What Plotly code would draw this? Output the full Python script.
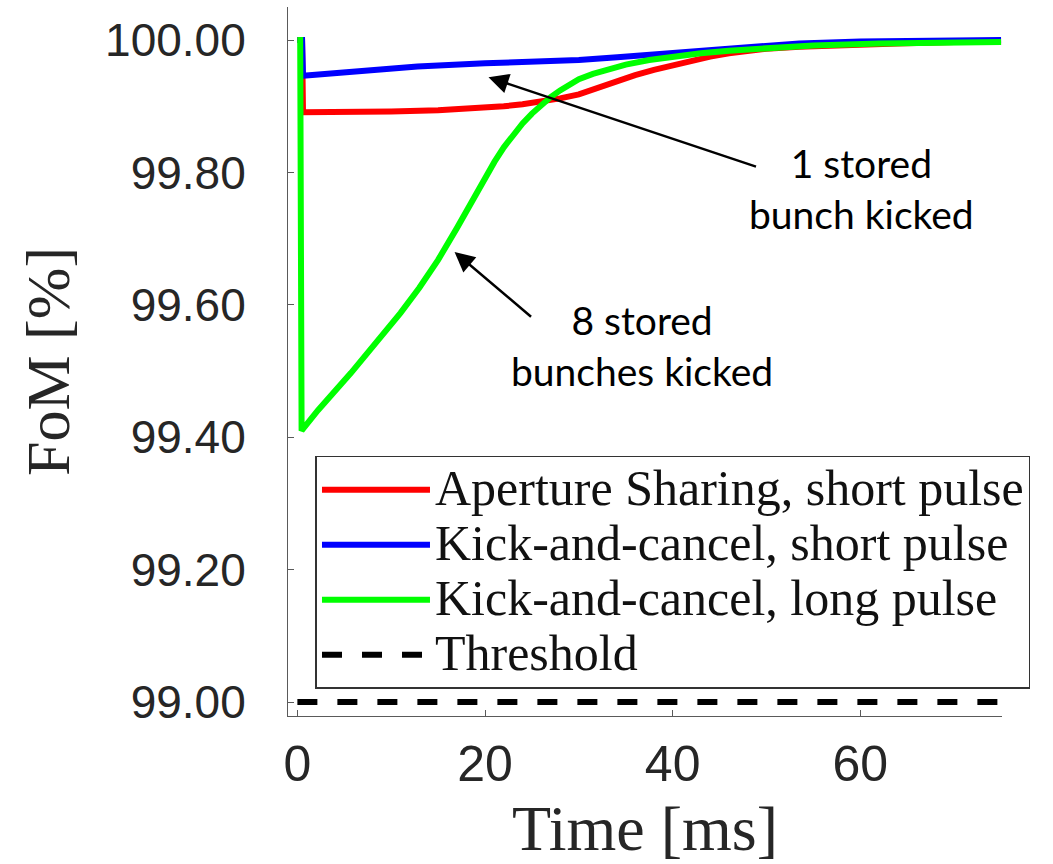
import plotly.graph_objects as go

# ---------------- data ----------------
time_as_short = [0, 0.5, 0.6, 2, 5, 10, 15, 20, 22, 24, 26, 28, 30, 32, 34, 36, 38, 40, 42, 44, 46,
                 48, 50, 53.5, 58, 64, 70, 75]
fom_as_short = [100.0, 100.0, 99.891, 99.891, 99.891, 99.892, 99.894, 99.897, 99.900, 99.903, 99.907,
                99.912, 99.918, 99.928, 99.938, 99.947, 99.955, 99.962, 99.969, 99.975, 99.980,
                99.984, 99.987, 99.990, 99.993, 99.995, 99.997, 99.998]

time_kc_short = [0, 0.5, 0.6, 5.8, 12.8, 20, 27.1, 30, 34.1, 41, 45, 50, 53.5, 60, 64.2, 75]
fom_kc_short = [100.0, 100.0, 99.946, 99.952, 99.960, 99.965, 99.967, 99.970, 99.974, 99.981,
                99.986, 99.991, 99.995, 99.998, 99.999, 100.0]

time_kc_long = [0, 0.3, 0.45, 2.2, 5.7, 9.3, 11, 13, 15, 17, 19, 21, 22, 23, 24, 25, 26, 27, 28, 29,
                30, 31.5, 33, 35, 37.5, 40, 43, 46, 50, 55, 62, 75]
fom_kc_long = [100.0, 100.0, 99.410, 99.441, 99.497, 99.557, 99.588, 99.626, 99.668, 99.716, 99.767,
               99.816, 99.838, 99.857, 99.874, 99.889, 99.902, 99.914, 99.924, 99.933, 99.941,
               99.949, 99.956, 99.963, 99.970, 99.975, 99.980, 99.984, 99.988, 99.992, 99.995, 99.997]

time_threshold = [0, 75]
fom_threshold = [99.0, 99.0]

series_names = ["Aperture Sharing, short pulse", "Kick-and-cancel, short pulse",
                "Kick-and-cancel, long pulse", "Threshold"]

y_tick_vals = [99.0, 99.2, 99.4, 99.6, 99.8, 100.0]
y_tick_text = ["99.00", "99.20", "99.40", "99.60", "99.80", "100.00"]
x_tick_vals = [0, 20, 40, 60]
x_tick_text = ["0", "20", "40", "60"]


def legend_label(text):
    return '<span style="font-size:50px">' + text + '</span>'


fig = go.Figure()
fig.add_trace(go.Scatter(x=time_as_short, y=fom_as_short, mode="lines",
                         line=dict(color="#ff0000", width=6), name=legend_label(series_names[0])))
fig.add_trace(go.Scatter(x=time_kc_short, y=fom_kc_short, mode="lines",
                         line=dict(color="#0000ff", width=6), name=legend_label(series_names[1])))
fig.add_trace(go.Scatter(x=time_kc_long, y=fom_kc_long, mode="lines",
                         line=dict(color="#00ff00", width=6), name=legend_label(series_names[2])))
fig.add_trace(go.Scatter(x=time_threshold, y=fom_threshold, mode="lines",
                         line=dict(color="#000000", width=6, dash="20px,20px"),
                         name=legend_label(series_names[3])))

axis_col = "#5a5a5a"
fig.update_layout(
    width=1053, height=864,
    margin=dict(l=288, r=51, t=7, b=148, autoexpand=False),
    plot_bgcolor="white", paper_bgcolor="white",
    showlegend=True,
    legend=dict(
        x=0.0385, y=0.367, xanchor="left", yanchor="top",
        bgcolor="white", bordercolor="#333333", borderwidth=1.5,
        font=dict(family="Liberation Serif", size=40, color="#111111"),
        itemwidth=108, tracegroupgap=0,
    ),
    annotations=[
        dict(x=20.37, y=99.944, xref="x", yref="y", ax=269, ay=90, text="",
             showarrow=True, arrowhead=2, arrowsize=1.6, arrowwidth=2.5, arrowcolor="black"),
        dict(x=16.75, y=99.680, xref="x", yref="y", ax=78, ay=66, text="",
             showarrow=True, arrowhead=2, arrowsize=1.6, arrowwidth=2.5, arrowcolor="black"),
        dict(x=60.16, y=99.776, xref="x", yref="y", text="1 stored<br>bunch kicked",
             showarrow=False, xanchor="center", yanchor="middle",
             font=dict(family="Lato", size=39, color="black")),
        dict(x=36.69, y=99.539, xref="x", yref="y", text="8 stored<br>bunches kicked",
             showarrow=False, xanchor="center", yanchor="middle",
             font=dict(family="Lato", size=39, color="black")),
    ],
)

fig.update_xaxes(
    range=[-1.0, 75.1], tickmode="array", tickvals=x_tick_vals, ticktext=x_tick_text,
    ticks="inside", ticklen=6, tickcolor=axis_col, tickwidth=1,
    showline=True, linecolor=axis_col, linewidth=1, mirror=False,
    showgrid=False, zeroline=False, automargin=False,
    tickfont=dict(family="Liberation Sans, Arial", size=50, color="#262626"),
    ticklabelstandoff=4,
    title=dict(text="Time [ms]", font=dict(family="Liberation Serif", size=64, color="#262626"),
               standoff=18),
)
fig.update_yaxes(
    range=[98.979, 100.05], tickmode="array", tickvals=y_tick_vals, ticktext=y_tick_text,
    ticks="inside", ticklen=6, tickcolor=axis_col, tickwidth=1,
    showline=True, linecolor=axis_col, linewidth=1, mirror=False,
    showgrid=False, zeroline=False, automargin=False,
    tickfont=dict(family="Liberation Sans, Arial", size=46, color="#262626"),
    ticklabelstandoff=32,
    title=dict(text="FoM [%]", font=dict(family="Liberation Serif", size=62, color="#262626"),
               standoff=15),
)

fig.write_html("out.html")
